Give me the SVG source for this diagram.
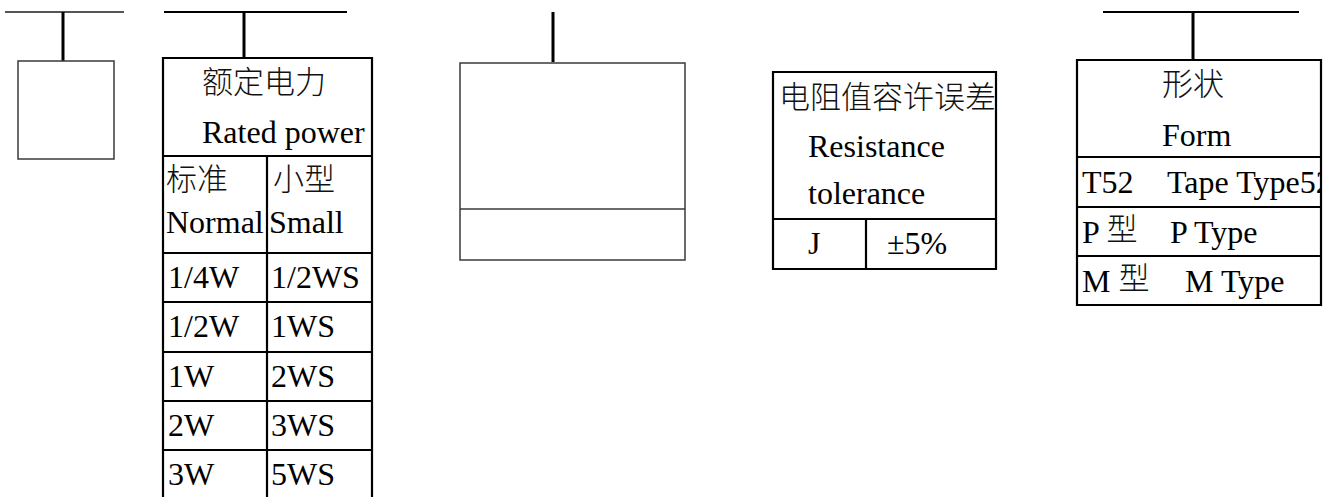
<svg xmlns="http://www.w3.org/2000/svg" width="1334" height="497" viewBox="0 0 1334 497">
<style>
.thin{fill:none;stroke:#3a3a3a;stroke-width:1.5}
.thick{fill:none;stroke:#000;stroke-width:2.2}
.conn{stroke:#000;stroke-width:3}
.bar{stroke:#000;stroke-width:2.2}
.barg{stroke:#555;stroke-width:1.8}
.t{font-family:"Liberation Serif","Times New Roman","Noto Sans CJK SC",serif;font-size:32px;fill:#000}
.c{font-family:"Noto Sans CJK SC","Liberation Serif",sans-serif;font-size:31px;fill:#111;font-weight:300}
</style>
<defs>
<clipPath id="clipTol"><rect x="773" y="72" width="223" height="197"/></clipPath>
<clipPath id="clipForm"><rect x="1077" y="60" width="243" height="246"/></clipPath>
</defs>
<rect width="1334" height="497" fill="#fff"/>
<g id="connectors">
<line class="barg" x1="5" y1="12" x2="124" y2="12"/>
<line class="conn" x1="63" y1="12" x2="63" y2="61"/>
<line class="bar" x1="164" y1="12" x2="347" y2="12"/>
<line class="conn" x1="244" y1="12" x2="244" y2="58"/>
<line class="conn" x1="553" y1="12" x2="553" y2="62"/>
<line class="bar" x1="1103" y1="12" x2="1299" y2="12"/>
<line class="conn" x1="1193" y1="12" x2="1193" y2="60"/>
</g>
<g id="node-blank1">
<rect class="thin" x="18" y="61" width="96" height="98"/>
</g>
<g id="node-rated-power">
<path class="thick" d="M163,505 V58 H372 V505 M163,156 H372 M267,156 V505 M163,253 H372 M163,302 H372 M163,352 H372 M163,401 H372 M163,450 H372"/>
<text class="c" x="202" y="93">额定电力</text>
<text class="t" x="202" y="143">Rated power</text>
<text class="c" x="166" y="190">标准</text>
<text class="c" x="273" y="190">小型</text>
<text class="t" x="166" y="233">Normal</text>
<text class="t" x="269" y="233">Small</text>
<text class="t" x="168" y="288">1/4W</text>
<text class="t" x="271" y="288">1/2WS</text>
<text class="t" x="168" y="337">1/2W</text>
<text class="t" x="271" y="337">1WS</text>
<text class="t" x="168" y="387">1W</text>
<text class="t" x="271" y="387">2WS</text>
<text class="t" x="168" y="436">2W</text>
<text class="t" x="271" y="436">3WS</text>
<text class="t" x="168" y="485">3W</text>
<text class="t" x="271" y="485">5WS</text>
</g>
<g id="node-blank2">
<rect class="thin" x="460" y="63" width="225" height="197"/>
<line class="thin" x1="460" y1="209" x2="685" y2="209"/>
</g>
<g id="node-tolerance">
<g clip-path="url(#clipTol)">
<text class="c" x="779" y="108">电阻值容许误差</text>
</g>
<text class="t" x="808" y="157">Resistance</text>
<text class="t" x="808" y="204">tolerance</text>
<text class="t" x="808" y="254">J</text>
<text class="t" x="887" y="254">±5%</text>
<path class="thick" d="M773,72 H996 V269 H773 Z M773,219 H996 M866,219 V269"/>
</g>
<g id="node-form">
<text class="c" x="1162" y="95">形状</text>
<text class="t" x="1162" y="146">Form</text>
<g clip-path="url(#clipForm)">
<text class="t" x="1082" y="193">T52</text>
<text class="t" x="1167" y="193">Tape Type52</text>
</g>
<text class="t" x="1082" y="243">P <tspan class="c" dy="-3" font-size="28">型</tspan></text>
<text class="t" x="1170" y="243">P Type</text>
<text class="t" x="1082" y="292">M <tspan class="c" dy="-3" font-size="28">型</tspan></text>
<text class="t" x="1185" y="292">M Type</text>
<path class="thick" d="M1077,60 H1321 V305 H1077 Z M1077,157 H1321 M1077,207 H1321 M1077,256 H1321"/>
</g>
</svg>
